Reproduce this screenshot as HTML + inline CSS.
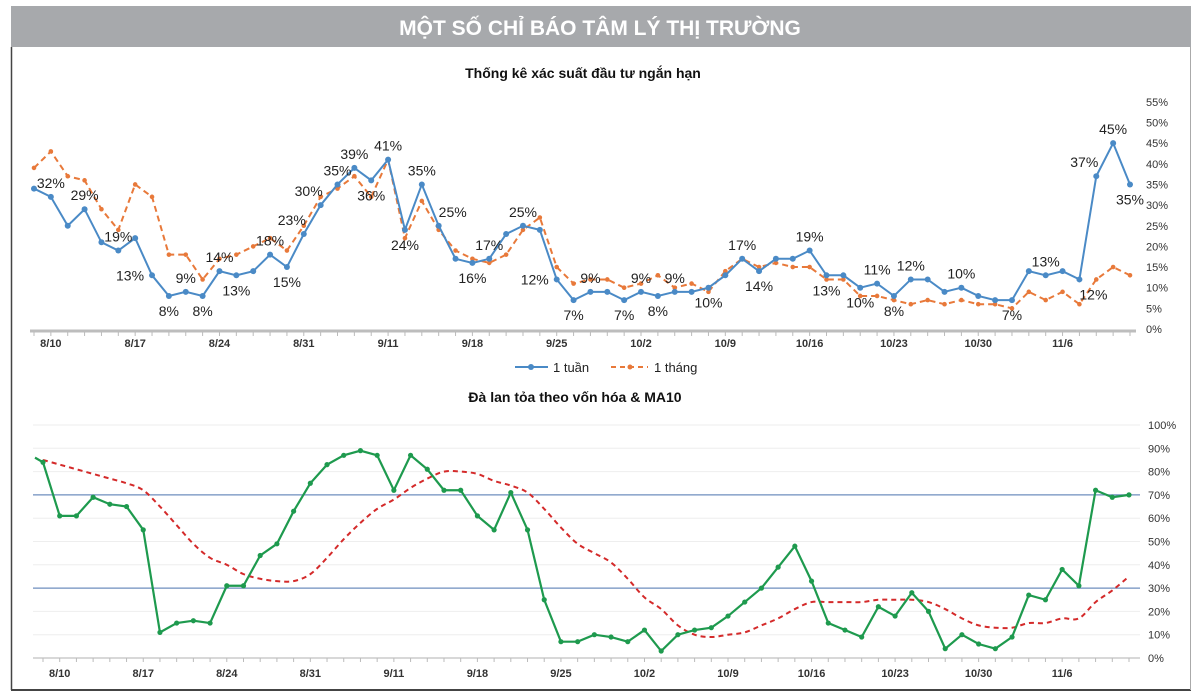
<!DOCTYPE html>
<html><head><meta charset="utf-8"><style>
body{margin:0;background:#fff;width:1200px;height:692px;overflow:hidden;font-family:"Liberation Sans",sans-serif}
svg text{font-family:"Liberation Sans","Noto Sans CJK SC",sans-serif}
</style></head><body>
<svg id="svg" width="1200" height="692" xmlns="http://www.w3.org/2000/svg">
<rect x="11" y="6" width="1180" height="41" fill="#a7a9ac"/>
<text x="600" y="35" text-anchor="middle" font-size="21" font-weight="bold" fill="#fff">MỘT SỐ CHỈ BÁO TÂM LÝ THỊ TRƯỜNG</text>
<line x1="11.5" y1="47" x2="11.5" y2="690" stroke="#444" stroke-width="1.5"/>
<line x1="11" y1="690" x2="1191" y2="690" stroke="#444" stroke-width="2"/>
<line x1="1190.5" y1="47" x2="1190.5" y2="690" stroke="#aaa" stroke-width="1"/>
<text x="583" y="78" text-anchor="middle" font-size="14" font-weight="bold" fill="#111">Thống kê xác suất đầu tư ngắn hạn</text>
<text x="575" y="402" text-anchor="middle" font-size="14" font-weight="bold" fill="#111">Đà lan tỏa theo vốn hóa &amp; MA10</text>
<g id="topchart"></g>
<g id="botchart"></g>
<g>
<line x1="515" y1="367" x2="548" y2="367" stroke="#4a8ac6" stroke-width="2"/>
<circle cx="531" cy="367" r="3" fill="#4a8ac6"/>
<text x="553" y="372" font-size="13" fill="#222">1 tuần</text>
<line x1="611" y1="367" x2="648" y2="367" stroke="#e8793a" stroke-width="2" stroke-dasharray="5,4"/>
<circle cx="630" cy="367" r="2.5" fill="#e8793a"/>
<text x="654" y="372" font-size="13" fill="#222">1 tháng</text>
</g>
</svg>
<script>
const dateLabels=["8/10","8/17","8/24","8/31","9/11","9/18","9/25","10/2","10/9","10/16","10/23","10/30","11/6"];
const weekSeries=[34,32,25,29,21,19,22,13,8,9,8,14,13,14,18,15,23,30,35,39,36,41,24,35,25,17,16,17,23,25,24,12,7,9,9,7,9,8,9,9,10,13,17,14,17,17,19,13,13,10,11,8,12,12,9,10,8,7,7,14,13,14,12,37,45,35];
const monthSeries=[39,43,37,36,29,24,35,32,18,18,12,17,18,20,22,19,25,32,34,37,32,41,22,31,24,19,17,16,18,24,27,15,11,12,12,10,11,13,10,11,9,14,17,15,16,15,15,12,12,8,8,7,6,7,6,7,6,6,5,9,7,9,6,12,15,13];
const weekLabels=[[1,'a'],[3,'a'],[5,'a'],[7,'l'],[8,'b'],[9,'a'],[10,'b'],[11,'a'],[12,'b'],[14,'a'],[15,'b'],[16,'al'],[17,'al'],[18,'a'],[19,'a'],[20,'b'],[21,'a'],[22,'b'],[23,'a'],[24,'ar'],[26,'b'],[27,'a'],[29,'a'],[31,'l'],[32,'b'],[33,'a'],[35,'b'],[36,'a'],[37,'b'],[38,'a'],[40,'b'],[42,'a'],[43,'b'],[46,'a'],[47,'b'],[49,'b'],[50,'a'],[51,'b'],[52,'a'],[55,'a'],[58,'b'],[60,'a'],[62,'br'],[63,'al'],[64,'a'],[65,'b']];
const topTicks=[0,5,10,15,20,25,30,35,40,45,50,55];
const breadthSeries=[84,61,61,69,66,65,55,11,15,16,15,31,31,44,49,63,75,83,87,89,87,72,87,81,72,72,61,55,71,55,25,7,7,10,9,7,12,3,10,12,13,18,24,30,39,48,33,15,12,9,22,18,28,20,4,10,6,4,9,27,25,38,31,72,69,70];
const ma10Series=[85,83,81,79,77,75,72,65,57,49,43,40,36,34,33,33,36,43,51,58,64,68,73,77,80,80,79,76,74,71,64,56,49,45,41,34,26,21,14,10,9,10,11,14,17,21,24,24,24,24,25,25,25,24,21,17,14,13,13,15,15,17,17,24,29,35];
const botTicks=[0,10,20,30,40,50,60,70,80,90,100];
const bands=[70,30];

const NS="http://www.w3.org/2000/svg";
function mk(tag,attrs,parent){const e=document.createElementNS(NS,tag);for(const k in attrs)e.setAttribute(k,attrs[k]);parent.appendChild(e);return e;}
const N=weekSeries.length;
const tx=i=>34+i*(1096/(N-1));
const ty=v=>329-v*4.13;
const bx=i=>43+i*(1086/(breadthSeries.length-1));
const by=v=>658-v*2.33;
const topG=document.getElementById('topchart'),botG=document.getElementById('botchart');

let ax=mk('line',{x1:30,y1:331,x2:1136,y2:331,stroke:'#bdbdbd','stroke-width':3},topG);


for(let i=0;i<N;i++){let t=mk('line',{x1:tx(i),y1:332,x2:tx(i),y2:336,stroke:'#bbb'},topG);

}
topTicks.forEach(v=>{let t=mk('text',{x:1146,y:ty(v)+4,'font-size':11,fill:'#333'},topG);t.textContent=v+'%';

});
dateLabels.forEach((d,k)=>{let t=mk('text',{x:tx(1+5*k),y:347,'font-size':11,'font-weight':'bold',fill:'#333','text-anchor':'middle'},topG);t.textContent=d;

});
let mp=mk('polyline',{points:monthSeries.map((v,i)=>tx(i)+','+ty(v)).join(' '),fill:'none',stroke:'#e8793a','stroke-width':2,'stroke-dasharray':'6,4'},topG);


monthSeries.forEach((v,i)=>{let c=mk('circle',{cx:tx(i),cy:ty(v),r:2.3,fill:'#e8793a'},topG);

});
let wp=mk('polyline',{points:weekSeries.map((v,i)=>tx(i)+','+ty(v)).join(' '),fill:'none',stroke:'#4a8ac6','stroke-width':2},topG);


weekSeries.forEach((v,i)=>{let c=mk('circle',{cx:tx(i),cy:ty(v),r:3,fill:'#4a8ac6'},topG);

});
weekLabels.forEach(([i,d])=>{let x=tx(i),y=ty(weekSeries[i]);
 if(d.includes('a'))y-=9;if(d.includes('b'))y+=20;if(d==='l'){x-=22;y+=5;}
 if(d.includes('l')&&d!=='l')x-=12;if(d.includes('r'))x+=14;
 let t=mk('text',{x:x,y:y,'font-size':14,fill:'#222','text-anchor':'middle'},topG);t.textContent=weekSeries[i]+'%';
 
 });

botTicks.forEach(v=>{let g=mk('line',{x1:33,y1:by(v),x2:1140,y2:by(v),stroke:'#eeeeee'},botG);


let t=mk('text',{x:1148,y:by(v)+4,'font-size':11,fill:'#333'},botG);t.textContent=v+'%';

});
bands.forEach(v=>{let l=mk('line',{x1:33,y1:by(v),x2:1140,y2:by(v),stroke:'#6f8fbf','stroke-width':1.3},botG);

});
let bax=mk('line',{x1:33,y1:658,x2:1140,y2:658,stroke:'#ccc','stroke-width':1.5},botG);


for(let i=0;i<breadthSeries.length;i++){let t=mk('line',{x1:bx(i),y1:658,x2:bx(i),y2:662,stroke:'#bbb'},botG);

}
dateLabels.forEach((d,k)=>{let t=mk('text',{x:bx(1+5*k),y:677,'font-size':11,'font-weight':'bold',fill:'#333','text-anchor':'middle'},botG);t.textContent=d;

});
function smooth(arr){let p=arr.map((v,i)=>[bx(i),by(v)]);let d='M'+p[0][0]+','+p[0][1];
 for(let i=0;i<p.length-1;i++){const p0=p[Math.max(i-1,0)],p1=p[i],p2=p[i+1],p3=p[Math.min(i+2,p.length-1)];
 d+=' C'+(p1[0]+(p2[0]-p0[0])/6)+','+(p1[1]+(p2[1]-p0[1])/6)+' '+(p2[0]-(p3[0]-p1[0])/6)+','+(p2[1]-(p3[1]-p1[1])/6)+' '+p2[0]+','+p2[1];}
 return d;}
let ma=mk('path',{d:smooth(ma10Series),fill:'none',stroke:'#d42a2a','stroke-width':2,'stroke-dasharray':'5,4'},botG);


let gp=mk('polyline',{points:'35,'+by(86)+' '+breadthSeries.map((v,i)=>bx(i)+','+by(v)).join(' '),fill:'none',stroke:'#1e9a4e','stroke-width':2.2},botG);


breadthSeries.forEach((v,i)=>{let c=mk('circle',{cx:bx(i),cy:by(v),r:2.6,fill:'#1e9a4e'},botG);

});
</script>
</body></html>
